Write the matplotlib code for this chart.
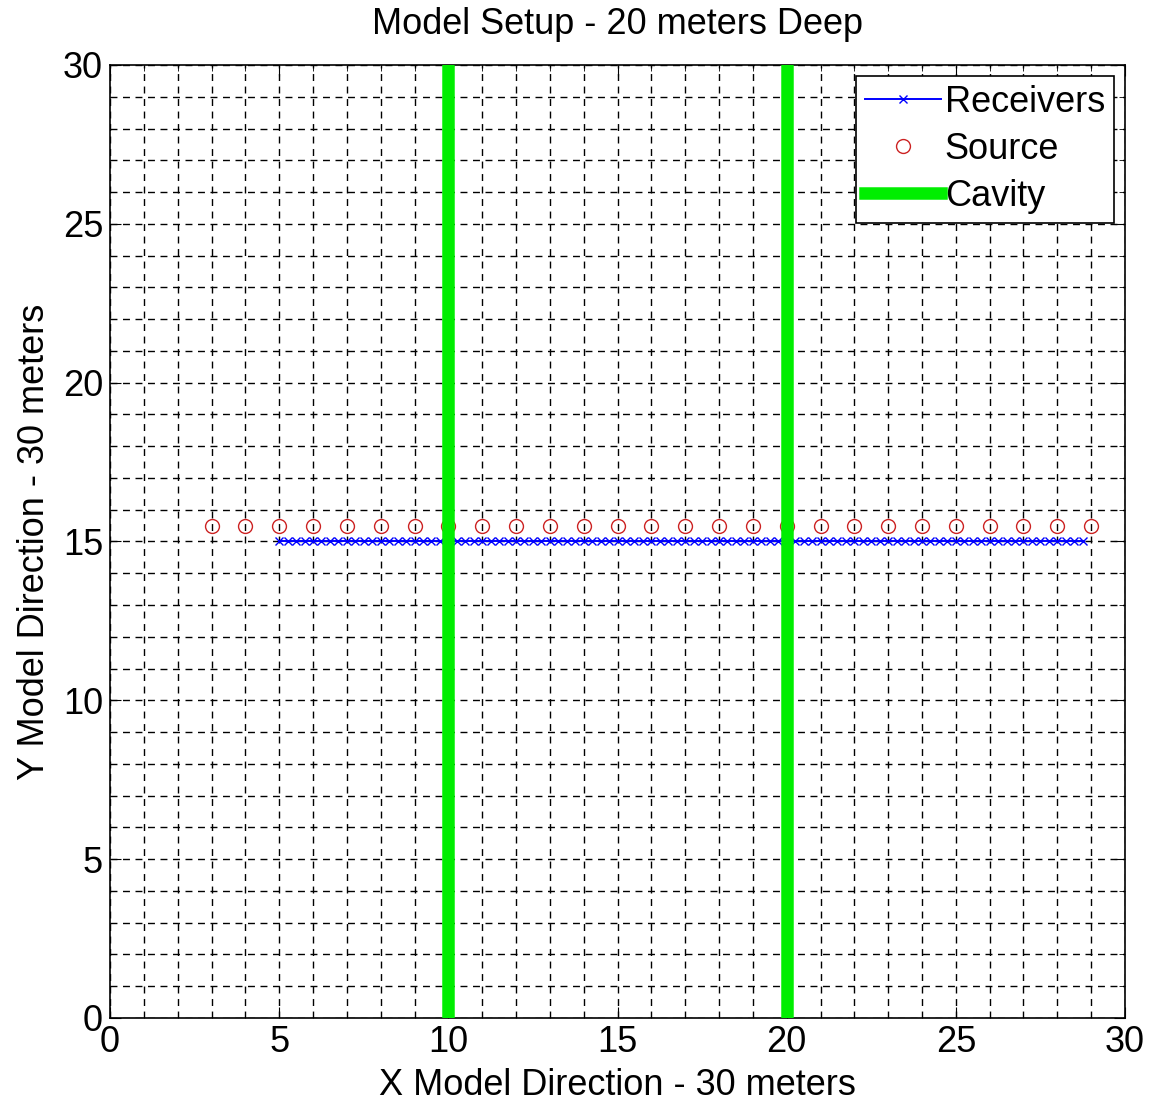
import matplotlib.pyplot as plt
from matplotlib.ticker import MultipleLocator

plt.rcParams['font.family'] = ['Liberation Sans', 'DejaVu Sans']

# receiver positions along the line (x, meters) at y = 15
rec_x = [5, 5.25, 5.5, 5.75, 6, 6.25, 6.5, 6.75, 7, 7.25, 7.5, 7.75,
         8, 8.25, 8.5, 8.75, 9, 9.25, 9.5, 9.75, 10, 10.25, 10.5, 10.75,
         11, 11.25, 11.5, 11.75, 12, 12.25, 12.5, 12.75, 13, 13.25, 13.5, 13.75,
         14, 14.25, 14.5, 14.75, 15, 15.25, 15.5, 15.75, 16, 16.25, 16.5, 16.75,
         17, 17.25, 17.5, 17.75, 18, 18.25, 18.5, 18.75, 19, 19.25, 19.5, 19.75,
         20, 20.25, 20.5, 20.75, 21, 21.25, 21.5, 21.75, 22, 22.25, 22.5, 22.75,
         23, 23.25, 23.5, 23.75, 24, 24.25, 24.5, 24.75, 25, 25.25, 25.5, 25.75,
         26, 26.25, 26.5, 26.75, 27, 27.25, 27.5, 27.75, 28, 28.25, 28.5, 28.75]
rec_y = [15] * len(rec_x)

# source positions at y = 15.5
src_x = [3, 4, 5, 6, 7, 8, 9, 10, 11, 12, 13, 14, 15, 16, 17, 18, 19, 20,
         21, 22, 23, 24, 25, 26, 27, 28, 29]
src_y = [15.5] * len(src_x)

# cavity walls
cav_x = [10, 20]
cav_y = [0, 30]

fig = plt.figure(figsize=(11.58, 11.07), dpi=100)
ax = fig.add_axes([0.095, 0.0804, 0.8765, 0.8609])

ax.plot(rec_x, rec_y, color='blue', marker='x', markersize=5.5, linewidth=1.4,
        markeredgewidth=1, label='Receivers', zorder=3)
ax.plot(src_x, src_y, linestyle='none', marker='o', markersize=10,
        markerfacecolor='none', markeredgecolor='#cc2222', markeredgewidth=1,
        label='Source', zorder=3)
for i, cx in enumerate(cav_x):
    ax.plot([cx, cx], cav_y, color='#00ee00', linewidth=9,
            label='Cavity' if i == 0 else None, zorder=4)

ax.set_xlim(0, 30)
ax.set_ylim(0, 30)
ax.xaxis.set_major_locator(MultipleLocator(5))
ax.yaxis.set_major_locator(MultipleLocator(5))
ax.xaxis.set_minor_locator(MultipleLocator(1))
ax.yaxis.set_minor_locator(MultipleLocator(1))
ax.grid(True, which='both', color='black', linestyle=(0, (5, 4)), linewidth=1)
ax.set_axisbelow(True)
ax.tick_params(which='both', direction='in', top=True, right=True, labelsize=26)
ax.tick_params(which='major', length=8, pad=5)
ax.tick_params(which='minor', length=4)
for s in ax.spines.values():
    s.set_linewidth(1.2)

ax.set_title('Model Setup - 20 meters Deep', fontsize=26, pad=22)
ax.set_xlabel('X Model Direction - 30 meters', fontsize=26, labelpad=6)
ax.set_ylabel('Y Model Direction - 30 meters', fontsize=26, labelpad=8)

leg = ax.legend(loc='upper right', fontsize=26, fancybox=False, framealpha=1,
                edgecolor='black', borderaxespad=0.3, handlelength=2.1,
                handletextpad=0.1, labelspacing=0.33, borderpad=0.25)
leg.get_frame().set_linewidth(1.2)

fig.savefig('out.png', dpi=100)
